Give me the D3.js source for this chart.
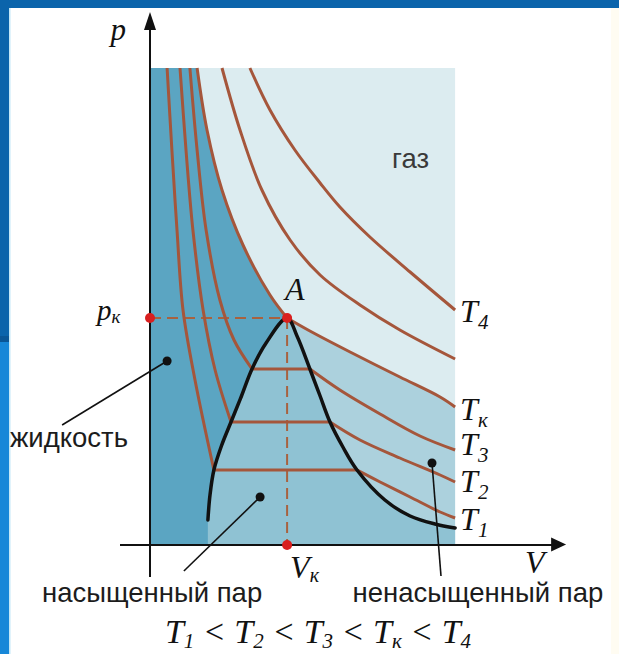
<!DOCTYPE html>
<meta charset="utf-8">
<style>
body { margin: 0; background: #fff; }
.iso { fill: none; stroke: #a5563b; stroke-width: 3px; }
.dome { fill: none; stroke: #111; stroke-width: 3.5px; stroke-linecap: round; }
.dash { fill: none; stroke: #a8623f; stroke-width: 2px; stroke-dasharray: 11,6; }
.ax { stroke: #111; stroke-width: 2px; }
.serif { font-family: "Liberation Serif", "DejaVu Serif", serif; font-style: italic; fill: #111; }
.sans { font-family: "Liberation Sans", Arial, sans-serif; fill: #1c1c1c; font-size: 27.5px; }
</style>
<body>
<script src="https://d3js.org/d3.v7.min.js"></script>
<script>

// p-V diagram, arbitrary units
var vMax = 10.17, pMax = 9.54;

// isotherms: liquid branch (top -> dome) and vapour branch (dome -> right edge)
var t1Left  = [[0.57,9.54],[0.73,7.9],[0.9,6.3],[1.1,4.7],[1.5,3.3],[2.13,1.5]];
var t1Right = [[6.9,1.5],[7.67,1.26],[8.67,0.96],[9.67,0.66],[10.17,0.54]];
var t2Left  = [[1.0,9.54],[1.2,7.9],[1.43,6.3],[1.77,4.7],[2.17,3.5],[2.7,2.46]];
var t2Right = [[6.0,2.46],[7.0,2.1],[8.33,1.74],[9.67,1.4],[10.17,1.26]];
var t3Left  = [[1.33,9.54],[1.57,7.9],[1.87,6.3],[2.33,4.9],[2.8,4.1],[3.4,3.52]];
var t3Right = [[5.33,3.52],[6.33,3.1],[7.67,2.62],[9.0,2.18],[10.17,1.9]];
var tkLeft  = [[1.57,9.54],[1.9,8.3],[2.4,7.1],[3.1,6.0],[4.0,5.0],[4.57,4.54]];
var tkRight = [[4.57,4.54],[5.33,4.28],[6.67,3.86],[8.33,3.36],[9.67,2.96],[10.17,2.76]];
var tMid    = [[2.4,9.54],[3.0,8.3],[3.73,7.1],[4.67,6.1],[5.67,5.4],[7.0,4.8],[8.33,4.3],[10.17,3.72]];
var t4      = [[3.33,9.54],[4.0,8.7],[4.83,7.9],[5.67,7.24],[6.33,6.76],[7.33,6.16],[8.67,5.46],[10.17,4.7]];

// saturation curve (dome)
var domeLeft  = [[1.93,0.5],[2.0,1.0],[2.13,1.5],[2.38,1.98],[2.7,2.46],[3.05,2.98],[3.4,3.52],[3.87,4.04],[4.57,4.54]];
var domeRight = [[4.57,4.54],[4.9,4.18],[5.33,3.52],[5.67,2.98],[6.0,2.46],[6.43,1.96],[6.9,1.5],[7.83,0.9],[8.67,0.58],[9.5,0.42],[10.17,0.34]];

var critical = [4.57, 4.54];   // point A: Vк, pк

// labels at the right ends of the isotherms
var labelSubs = ["1", "2", "3", "к", "4"];
var labelP    = [0.3, 1.06, 1.8, 2.5, 4.46];

var colGas = "#dcecf0", colUnsat = "#acd1dd", colDome = "#8fc2d3", colLiquid = "#5ba5c2";

var W = 619, H = 654;
var svg = d3.select("body").append("svg")
    .attr("width", W)
    .attr("height", H);

// frame
svg.append("rect").attr("x", 0).attr("y", 0).attr("width", W).attr("height", 8).attr("fill", "#0b64ab");
svg.append("rect").attr("x", 0).attr("y", 0).attr("width", 9).attr("height", 340).attr("fill", "#0b64ab");
svg.append("rect").attr("x", 0).attr("y", 336).attr("width", 9).attr("height", 6).attr("fill", "#0a5696");
svg.append("rect").attr("x", 0).attr("y", 342).attr("width", 9).attr("height", H - 342).attr("fill", "#1787d8");
svg.append("rect").attr("x", 9).attr("y", 8).attr("width", 1.5).attr("height", H).attr("fill", "#c4e8f8");
svg.append("rect").attr("x", 611).attr("y", 8).attr("width", 8).attr("height", H).attr("fill", "#fffcf2");

var x = d3.scaleLinear().domain([0, 10]).range([150, 450]);
var y = d3.scaleLinear().domain([0, 10]).range([545, 45]);

var line = d3.line()
    .x(function(d) { return x(d[0]); })
    .y(function(d) { return y(d[1]); })
    .curve(d3.curveCatmullRom.alpha(0.5));

// glue several path strings into one continuous path
function join() {
  var s = "";
  for (var i = 0; i < arguments.length; i++) {
    s += i === 0 ? arguments[i] : arguments[i].replace(/^M/, "L");
  }
  return s;
}
function L(v, p) { return "L" + x(v) + "," + y(p); }

var domeAll = domeLeft.concat(domeRight.slice(1));

// regions
svg.append("rect")
    .attr("x", x(0)).attr("y", y(pMax))
    .attr("width", x(vMax) - x(0)).attr("height", y(0) - y(pMax))
    .attr("fill", colGas);

svg.append("path")
    .attr("fill", colUnsat)
    .attr("d", join(line(tkLeft), line(tkRight)) + L(vMax, 0) + L(0, 0) + L(0, pMax) + "Z");

svg.append("path")
    .attr("fill", colDome)
    .attr("d", line(domeAll) + L(vMax, 0) + L(domeLeft[0][0], 0) + "Z");

svg.append("path")
    .attr("fill", colLiquid)
    .attr("d", join(line(tkLeft), line(domeLeft.slice().reverse())) + L(domeLeft[0][0], 0) + L(0, 0) + L(0, pMax) + "Z");

// dashed guides to the critical point
svg.append("line").attr("class", "dash")
    .attr("x1", x(0)).attr("y1", y(critical[1]))
    .attr("x2", x(critical[0])).attr("y2", y(critical[1]));
svg.append("line").attr("class", "dash")
    .attr("x1", x(critical[0])).attr("y1", y(critical[1]))
    .attr("x2", x(critical[0])).attr("y2", y(0));

// isotherms
[[t1Left, t1Right], [t2Left, t2Right], [t3Left, t3Right]].forEach(function(b) {
  svg.append("path").attr("class", "iso").attr("d", join(line(b[0]), line(b[1])));
});
svg.append("path").attr("class", "iso").attr("d", join(line(tkLeft), line(tkRight)));
svg.append("path").attr("class", "iso").attr("d", line(tMid));
svg.append("path").attr("class", "iso").attr("d", line(t4));

// dome
svg.append("path").attr("class", "dome").attr("d", line(domeAll));

// axes with arrows
svg.append("line").attr("class", "ax")
    .attr("x1", x(0)).attr("y1", y(-0.64)).attr("x2", x(0)).attr("y2", y(10.3));
svg.append("path").attr("fill", "#111")
    .attr("d", "M" + x(0) + "," + y(10.66) + "l-6,18h12z");
svg.append("line").attr("class", "ax")
    .attr("x1", x(-1)).attr("y1", y(0)).attr("x2", x(13.5)).attr("y2", y(0));
svg.append("path").attr("fill", "#111")
    .attr("d", "M" + x(13.87) + "," + (y(0) - 0.5) + "l-15,-7v14z");

// red points
[[0, critical[1]], critical, [critical[0], 0]].forEach(function(d) {
  svg.append("circle").attr("cx", x(d[0])).attr("cy", y(d[1])).attr("r", 5).attr("fill", "#d91f1f");
});

// pointers
var pointers = [
  {dot: [0.57, 3.68], end: [-2.93, 2.4]},
  {dot: [3.67, 0.96], end: [1.13, -0.52]},
  {dot: [9.4, 1.64],  end: [9.7, -0.62]}
];
pointers.forEach(function(d) {
  svg.append("line").attr("stroke", "#111").attr("stroke-width", 1.6)
      .attr("x1", x(d.dot[0])).attr("y1", y(d.dot[1]))
      .attr("x2", x(d.end[0])).attr("y2", y(d.end[1]));
  svg.append("circle").attr("cx", x(d.dot[0])).attr("cy", y(d.dot[1])).attr("r", 4.5).attr("fill", "#111");
});

// text labels
svg.append("text").attr("class", "sans").attr("x", x(8.07)).attr("y", y(7.54)).style("fill", "#3a3a3a").text("газ");
svg.append("text").attr("class", "sans").attr("x", x(-4.67)).attr("y", y(1.96)).text("жидкость");
svg.append("text").attr("class", "sans").attr("x", x(0.07)).attr("y", y(-1.13)).attr("text-anchor", "middle").text("насыщенный пар");
svg.append("text").attr("class", "sans").attr("x", x(10.93)).attr("y", y(-1.13)).attr("text-anchor", "middle").text("ненасыщенный пар");

function sub(sel, main, s, size, subSize, dy) {
  sel.style("font-size", size + "px");
  sel.append("tspan").text(main);
  sel.append("tspan").attr("dy", dy).style("font-size", subSize + "px").text(s);
  return sel;
}

svg.append("text").attr("class", "serif").attr("x", x(-0.8)).attr("y", y(10.1))
    .attr("text-anchor", "end").style("font-size", "31px").text("p");
sub(svg.append("text").attr("class", "serif").attr("x", x(-1.77)).attr("y", y(4.5)), "p", "к", 29, 19, 3);
svg.append("text").attr("class", "serif").attr("x", x(4.5)).attr("y", y(4.9)).style("font-size", "32px").text("A");
sub(svg.append("text").attr("class", "serif").attr("x", x(4.67)).attr("y", y(-0.66)), "V", "к", 32, 20, 4);
svg.append("text").attr("class", "serif").attr("x", x(12.5)).attr("y", y(-0.56)).style("font-size", "32px").text("V");

labelSubs.forEach(function(s, i) {
  sub(svg.append("text").attr("class", "serif")
      .attr("x", x(vMax) + 5).attr("y", y(labelP[i])), "T", s, 32, 21, 7);
});

// T1 < T2 < T3 < Tк < T4
var f = svg.append("text").attr("class", "serif")
    .attr("x", 318).attr("y", y(-1.96)).attr("text-anchor", "middle").style("font-size", "34px");
labelSubs.forEach(function(s, i) {
  f.append("tspan").attr("dy", i === 0 ? 0 : -5).text((i === 0 ? "" : " < ") + "T");
  f.append("tspan").attr("dy", 5).style("font-size", "21px").text(s);
});

</script>
</body>
